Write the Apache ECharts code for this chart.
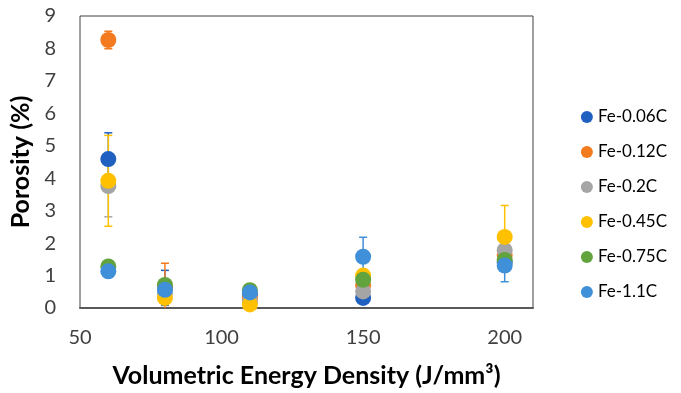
<!DOCTYPE html>
<html>
<head>
<meta charset="utf-8">
<script src="https://cdn.jsdelivr.net/npm/echarts@6/dist/echarts.min.js"></script>
<style>
  html, body { margin: 0; padding: 0; background: #fff; }
  #chart { width: 681px; height: 393px; }
</style>
</head>
<body>
<div id="chart"></div>
<script>
// energy density levels (J/mm3)
const energy = [60, 80, 110, 150, 200];

const names = ['Fe-0.06C', 'Fe-0.12C', 'Fe-0.2C', 'Fe-0.45C', 'Fe-0.75C', 'Fe-1.1C'];
const colors = ['#2060C0', '#F47A20', '#A5A5A5', '#FFC000', '#63A33D', '#3F8FD9'];

// porosity (%)
const fe006 = [4.59, 0.62, 0.40, 0.31, 1.40];
const fe012 = [8.26, 0.65, 0.30, 0.70, 1.63];
const fe02 = [3.76, 0.45, 0.20, 0.51, 1.78];
const fe045 = [3.92, 0.31, 0.11, 1.00, 2.19];
const fe075 = [1.28, 0.71, 0.55, 0.87, 1.48];
const fe11 = [1.13, 0.56, 0.48, 1.58, 1.31];

// standard deviation
const err006 = [0.81, 0.54, 0.10, 0.10, 0.10];
const err012 = [0.27, 0.73, 0.10, 0.10, 0.20];
const err02 = [0.95, 0.20, 0.10, 0.10, 0.20];
const err045 = [1.40, 0.20, 0.05, 0.10, 0.97];
const err075 = [0.10, 0.10, 0.05, 0.10, 0.10];
const err11 = [0.10, 0.10, 0.05, 0.60, 0.50];

const values = [fe006, fe012, fe02, fe045, fe075, fe11];
const errors = [err006, err012, err02, err045, err075, err11];

const font = 'Lato, "Open Sans", sans-serif';

const chart = echarts.init(document.getElementById('chart'));

// error bar drawn as a vertical line with two caps
const renderErr = (params, api) => {
  const x = api.value(0);
  const lo = api.coord([x, api.value(1)]);
  const hi = api.coord([x, api.value(2)]);
  const half = 4;
  const style = { stroke: api.visual('color'), lineWidth: 1.5 };
  return {
    type: 'group',
    children: [
      { type: 'line', shape: { x1: hi[0], y1: hi[1], x2: lo[0], y2: lo[1] }, style },
      { type: 'line', shape: { x1: hi[0] - half, y1: hi[1], x2: hi[0] + half, y2: hi[1] }, style },
      { type: 'line', shape: { x1: lo[0] - half, y1: lo[1], x2: lo[0] + half, y2: lo[1] }, style }
    ]
  };
};

const series = [];
names.forEach((name, i) => {
  series.push({
    type: 'custom',
    name: name + ' err',
    renderItem: renderErr,
    itemStyle: { color: colors[i] },
    clip: true,
    z: 1,
    silent: true,
    data: energy.map((x, j) => [x, values[i][j] - errors[i][j], values[i][j] + errors[i][j]])
  });
});
names.forEach((name, i) => {
  series.push({
    type: 'scatter',
    name: name,
    symbolSize: 16,
    itemStyle: { color: colors[i], opacity: 1 },
    z: 2 + i,
    data: energy.map((x, j) => [x, values[i][j]])
  });
});

const option = {
  animation: false,
  color: colors,
  grid: { left: 80, top: 16, right: 148, bottom: 83, show: true, borderColor: '#404040', borderWidth: 1 },
  legend: {
    data: names,
    orient: 'vertical',
    right: 9,
    top: 103,
    itemGap: 17,
    icon: 'circle',
    itemWidth: 12,
    itemHeight: 12,
    textStyle: { fontFamily: font, fontSize: 17, lineHeight: 18, color: '#000' }
  },
  xAxis: {
    type: 'value',
    min: 50,
    max: 210,
    interval: 50,
    name: 'Volumetric Energy Density (J/mm³)',
    nameLocation: 'middle',
    nameGap: 55,
    nameTextStyle: { fontFamily: font, fontSize: 25, fontWeight: 'bold', color: '#000' },
    axisLine: { lineStyle: { color: '#595959', width: 2 } },
    axisTick: { show: false },
    splitLine: { show: false },
    axisLabel: { fontFamily: font, fontSize: 20, color: '#404040', margin: 20, showMaxLabel: false }
  },
  yAxis: {
    type: 'value',
    min: 0,
    max: 9,
    interval: 1,
    name: 'Porosity (%)',
    nameLocation: 'middle',
    nameGap: 38,
    nameTextStyle: { fontFamily: font, fontSize: 25, fontWeight: 'bold', color: '#000' },
    axisLine: { show: false },
    axisTick: { show: false },
    splitLine: { show: false },
    axisLabel: { fontFamily: font, fontSize: 20, color: '#404040', margin: 24 }
  },
  series
};

chart.setOption(option);
</script>
</body>
</html>
